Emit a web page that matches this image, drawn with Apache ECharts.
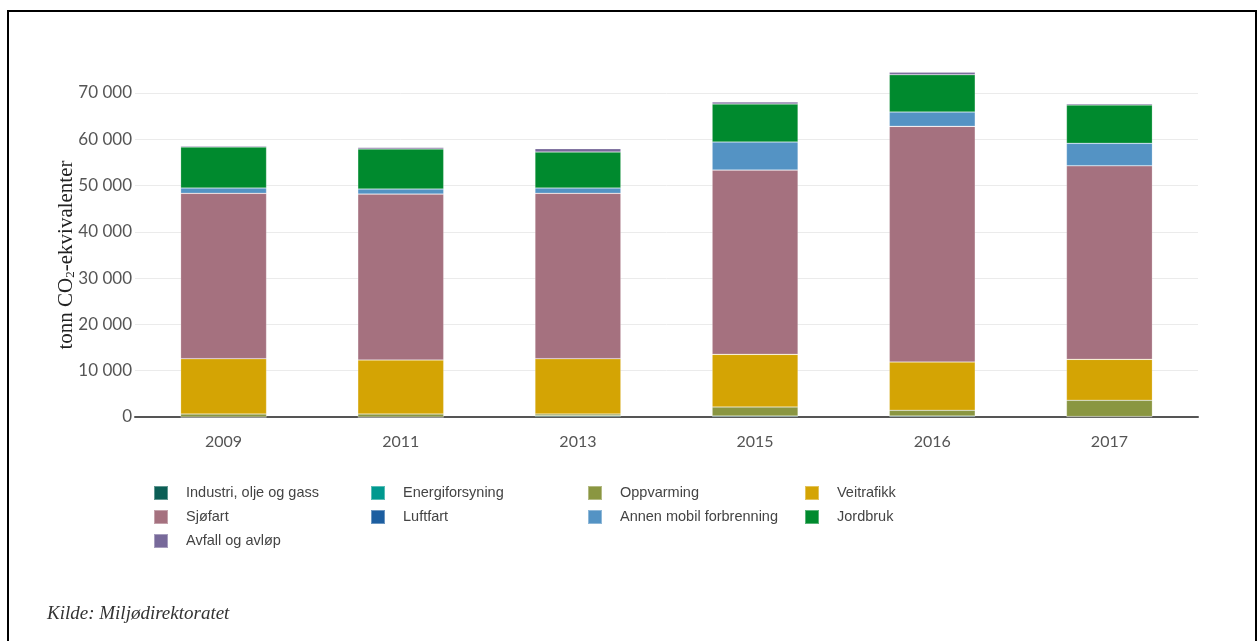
<!DOCTYPE html>
<html>
<head>
<meta charset="utf-8">
<script src="https://cdn.jsdelivr.net/npm/echarts@6/dist/echarts.min.js"></script>
<style>
html,body{margin:0;padding:0;background:#fff;overflow:hidden;}
#frame{position:absolute;left:7px;top:10px;width:1246px;height:660px;border:2px solid #000;box-sizing:content-box;}
#chart{position:absolute;left:0;top:0;width:1258px;height:641px;}
</style>
</head>
<body>
<div id="frame"></div>
<div id="chart"></div>
<script>
const categories = ['2009', '2011', '2013', '2015', '2016', '2017'];
const seriesNames = ['Industri, olje og gass', 'Energiforsyning', 'Oppvarming', 'Veitrafikk', 'Sjøfart', 'Luftfart', 'Annen mobil forbrenning', 'Jordbruk', 'Avfall og avløp'];
const industri = [0, 0, 250, 200, 200, 100];
const energiforsyning = [0, 0, 0, 0, 0, 0];
const oppvarming = [650, 650, 400, 1960, 1250, 3510];
const veitrafikk = [11940, 11660, 11940, 11380, 10430, 8850];
const sjofart = [35740, 35860, 35740, 39820, 50920, 41830];
const luftfart = [0, 0, 0, 0, 0, 0];
const annenMobil = [1140, 1080, 1140, 6050, 3090, 4840];
const jordbruk = [8860, 8650, 7770, 8210, 8060, 8270];
const avfall = [210, 360, 740, 430, 520, 280];
const yTicks = [0, 10000, 20000, 30000, 40000, 50000, 60000, 70000];

const values = [industri, energiforsyning, oppvarming, veitrafikk, sjofart, luftfart, annenMobil, jordbruk, avfall];
const colors = ['#0b5e55', '#00998f', '#8a9641', '#d4a404', '#a5717f', '#1c5ea0', '#5493c4', '#008a2e', '#77699a'];

const chart = echarts.init(document.getElementById('chart'), null, {renderer: 'canvas'});
const fmt = v => String(Math.round(v)).replace(/\B(?=(\d{3})+(?!\d))/g, ' ');

chart.setOption({
  animation: false,
  backgroundColor: 'transparent',
  color: colors,
  grid: {left: 135, right: 60, top: 93, bottom: 641 - 417, containLabel: false},
  legend: {
    left: 148, top: 480, width: 900,
    itemWidth: 14, itemHeight: 14, itemGap: 8,
    icon: 'rect',
    data: seriesNames,
    formatter: name => '{w|' + name + '}',
    textStyle: {
      fontFamily: 'Liberation Sans, Arial, sans-serif', fontSize: 14.5, color: '#444',
      rich: {w: {fontFamily: 'Liberation Sans, Arial, sans-serif', fontSize: 14.5, color: '#444', width: 176, padding: [0, 0, 0, 13], lineHeight: 16}}
    },
    selectedMode: false
  },
  xAxis: {
    type: 'category',
    data: categories,
    axisLine: {show: true, lineStyle: {color: '#555', width: 2}},
    axisTick: {show: false},
    axisLabel: {fontFamily: 'Lato, sans-serif', fontSize: 16, color: '#555', margin: 17}
  },
  yAxis: {
    type: 'value',
    min: 0, max: 70000, interval: 10000,
    name: '{a|tonn CO}{s|2}{a|-ekvivalenter}',
    nameLocation: 'middle',
    nameRotate: 90,
    nameGap: 58,
    nameMoveOverlap: false,
    nameTextStyle: {
      rich: {
        a: {fontFamily: 'Liberation Serif, serif', fontSize: 21, color: '#222'},
        s: {fontFamily: 'Liberation Serif, serif', fontSize: 13, color: '#222', verticalAlign: 'bottom', padding: [9, 0, 0, 0]}
      }
    },
    axisLine: {show: false},
    axisTick: {show: false},
    splitLine: {lineStyle: {color: '#ebebeb', width: 1}},
    axisLabel: {fontFamily: 'Lato, sans-serif', fontSize: 17, color: '#555', margin: 3, formatter: v => yTicks.includes(v) ? fmt(v) : ''}
  },
  series: seriesNames.map((name, i) => ({
    name: name,
    type: 'bar',
    stack: 'total',
    clip: false,
    barWidth: '48.5%',
    data: values[i],
    itemStyle: {color: colors[i], borderColor: 'rgba(255,255,255,0.35)', borderWidth: 0.6},
    emphasis: {disabled: true}
  })),
  graphic: [{
    type: 'text',
    left: 47, top: 604,
    style: {text: 'Kilde: Miljødirektoratet', fontFamily: 'Liberation Serif, serif', fontStyle: 'italic', fontSize: 19, fill: '#333'}
  }]
});
</script>
</body>
</html>
